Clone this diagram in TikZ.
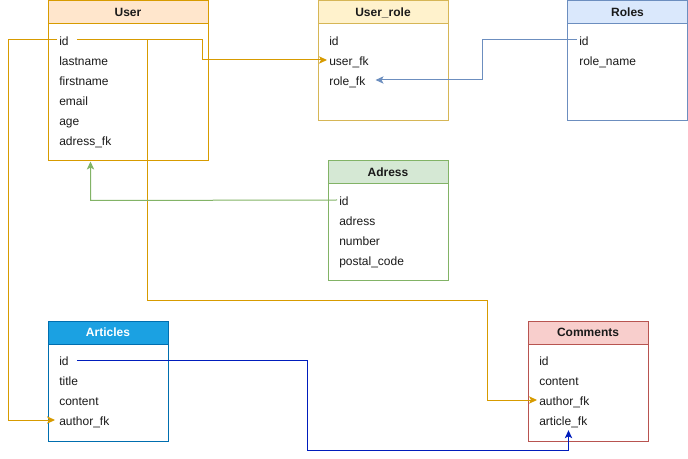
\documentclass[tikz,border=0pt]{standalone}
\usepackage{fontspec}
\setmainfont{Liberation Sans}
\usetikzlibrary{arrows.meta}

\definecolor{userfill}{HTML}{FFE6CC}\definecolor{userline}{HTML}{D79B00}
\definecolor{urfill}{HTML}{FFF2CC}\definecolor{urline}{HTML}{D6B656}
\definecolor{rolefill}{HTML}{DAE8FC}\definecolor{roleline}{HTML}{6C8EBF}
\definecolor{adrfill}{HTML}{D5E8D4}\definecolor{adrline}{HTML}{82B366}
\definecolor{artfill}{HTML}{1BA1E2}\definecolor{artline}{HTML}{006EAF}
\definecolor{comfill}{HTML}{F8CECC}\definecolor{comline}{HTML}{B85450}
\definecolor{linkblue}{HTML}{001DBC}
\definecolor{txt}{HTML}{1A1A1A}

\tikzset{
  tblbody/.style={draw=#1, fill=white, line width=0.75pt, anchor=north west, inner sep=0pt},
  tblhead/.style={draw=#1, line width=0.75pt, anchor=north west, inner sep=0pt,
    minimum height=17.25pt, font=\fontsize{9}{11}\selectfont\bfseries, text=txt},
  field/.style={anchor=west, inner sep=0pt, text height=8.9pt, text depth=1pt,
    font=\fontsize{9}{11}\selectfont, text=txt},
  link/.style={line width=0.75pt, -{Stealth[length=6pt,width=5.5pt,inset=1.5pt]}},
}

\begin{document}
\begin{tikzpicture}[x=0.75pt,y=-0.75pt]
\useasboundingbox (0,0) rectangle (688,459);

% User table
\node (user) [tblbody=userline, minimum width=120pt, minimum height=120pt] at (47.5,0.5) {};
\node (userh) [tblhead=userline, fill=userfill, minimum width=120pt] at (47.5,0.5) {User};
\node (uid)    [field] at (59,40)  {id};
\node (ulast)  [field] at (59,60)  {lastname};
\node (ufirst) [field] at (59,80)  {firstname};
\node (umail)  [field] at (59,100) {email};
\node (uage)   [field] at (59,120) {age};
\node (uadr)   [field] at (59,140) {adress\_fk};

% User_role table
\node (urole) [tblbody=urline, minimum width=97.5pt, minimum height=90pt] at (317.5,0.5) {};
\node (uroleh) [tblhead=urline, fill=urfill, minimum width=97.5pt] at (317.5,0.5) {User\_role};
\node (urid)  [field] at (329,40) {id};
\node (urufk) [field] at (329,60) {user\_fk};
\node (urrfk) [field] at (329,80) {role\_fk};

% Roles table
\node (roles) [tblbody=roleline, minimum width=90pt, minimum height=90pt] at (567,0.5) {};
\node (rolesh) [tblhead=roleline, fill=rolefill, minimum width=90pt] at (567,0.5) {Roles};
\node (rid)   [field] at (579,40) {id};
\node (rname) [field] at (579,60) {role\_name};

% Adress table
\node (adr) [tblbody=adrline, minimum width=90pt, minimum height=90pt] at (327.5,160.5) {};
\node (adrh) [tblhead=adrline, fill=adrfill, minimum width=90pt] at (327.5,160.5) {Adress};
\node (aid)     [field] at (339,200) {id};
\node (aadr)    [field] at (339,220) {adress};
\node (anum)    [field] at (339,240) {number};
\node (apostal) [field] at (339,260) {postal\_code};

% Articles table
\node (art) [tblbody=artline, minimum width=90pt, minimum height=90pt] at (47.5,320.5) {};
\node (arth) [tblhead=artline, fill=artfill, text=white, minimum width=90pt] at (47.5,320.5) {Articles};
\node (arid)    [field] at (59,360) {id};
\node (artitle) [field] at (59,380) {title};
\node (arcont)  [field] at (59,400) {content};
\node (arauth)  [field] at (59,420) {author\_fk};

% Comments table
\node (com) [tblbody=comline, minimum width=90pt, minimum height=90pt] at (527.5,320.5) {};
\node (comh) [tblhead=comline, fill=comfill, minimum width=90pt] at (527.5,320.5) {Comments};
\node (cid)   [field] at (539,360) {id};
\node (ccont) [field] at (539,380) {content};
\node (cauth) [field] at (539,400) {author\_fk};
\node (cart)  [field] at (539,420) {article\_fk};

% Bend points of the relation lines
\coordinate (abend) at (90.5,200.5);
\coordinate (cbend) at (568.5,450.5);

% Relations
\draw[link, userline] ([xshift=6pt]uid.east) -- (202.5,40) |- ([xshift=-1.5pt]urufk.west);
\draw[link, userline] ([xshift=-1.5pt]uid.west) -- (8.5,40) |- ([xshift=-3pt]arauth.west);
\draw[link, userline] (147.5,40) -- (147.5,300.5) -- (487.5,300.5) |- ([xshift=-1.5pt]cauth.west);
\draw[link, adrline] ([xshift=-1.5pt]aid.west) -- (abend) -- (abend |- user.south);
\draw[link, roleline] ([xshift=-1.5pt]rid.west) -- (482.5,40) |- ([xshift=7.5pt]urrfk.east);
\draw[link, linkblue] ([xshift=6pt]arid.east) -- (307.5,360) -- (307.5,450.5) -- (cbend) -- ([yshift=-2.5pt]cbend |- cart.south);
\end{tikzpicture}
\end{document}
